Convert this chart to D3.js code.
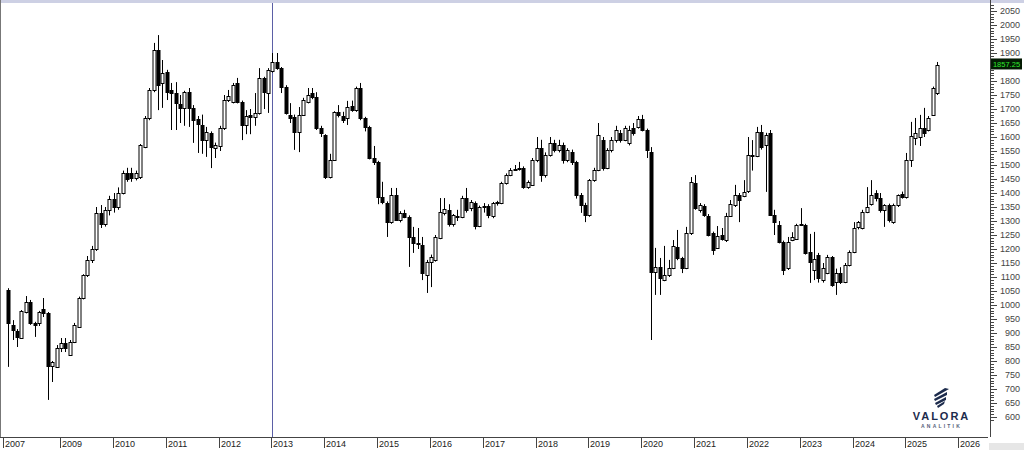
<!DOCTYPE html>
<html><head><meta charset="utf-8">
<script src="https://cdn.jsdelivr.net/npm/d3@7"></script>
<style>html,body{margin:0;padding:0;background:#fff;}svg{display:block;}</style>
</head><body>
<svg id="c" width="1024" height="450"></svg>
<script>
// ---- DATA (monthly candles from Jan 2008) ----
const startMonth = "2008-01";
const open = [1054,928,907,882,975,1011,936,936,986,971,782,779,846,864,821,868,921,1025,1107,1161,1200,1330,1290,1340,1380,1350,1400,1470,1471,1454,
1457,1564,1668,1768,1911,1793,1832,1768,1757,1718,1704,1761,1704,1664,1643,1589,1614,1561,1568,1632,1732,1725,1793,1725,1643,1679,1671,1686,1811,1757,
1836,1868,1846,1779,1679,1671,1618,1679,1725,1757,1743,1632,1607,1457,1518,1689,1675,1668,1711,1696,1775,1668,1636,1525,1511,1386,1364,1296,1393,1304,
1329,1314,1243,1221,1214,1107,1154,1161,1239,1329,1339,1289,1314,1314,1382,1346,1364,1282,1354,1354,1318,1364,1364,1436,1464,1486,1489,1489,1421,1429,
1518,1561,1464,1536,1579,1554,1571,1518,1546,1511,1393,1357,1321,1446,1482,1589,1489,1554,1589,1614,1589,1579,1632,1636,1664,1625,1546,1118,1136,1089,
1107,1132,1207,1168,1132,1257,1436,1339,1354,1318,1257,1204,1250,1232,1318,1357,1393,1389,1407,1532,1532,1618,1571,1614,1321,1286,1225,1132,1232,1236,
1286,1286,1189,1125,1179,1089,1114,1171,1082,1114,1082,1143,1189,1279,1275,1332,1361,1400,1382,1339,1357,1296,1357,1396,1386,1518,1596,1600,1632,1625,
1679,1757];
const high = [1060,946,914,982,1032,1018,940,979,1025,975,800,857,882,882,875,936,1030,1110,1175,1211,1350,1357,1350,1390,1400,1420,1480,1490,1490,1480,
1575,1675,1775,1936,1964,1875,1840,1793,1796,1750,1765,1775,1714,1675,1680,1636,1620,1580,1640,1750,1768,1793,1811,1730,1696,1700,1757,1846,1815,1846,
1900,1900,1850,1785,1721,1680,1707,1740,1775,1775,1760,1640,1610,1540,1692,1714,1690,1729,1730,1780,1793,1672,1640,1568,1515,1440,1370,1418,1418,1335,
1340,1320,1279,1275,1243,1161,1180,1250,1382,1382,1360,1325,1340,1390,1418,1375,1370,1355,1364,1360,1368,1372,1440,1470,1489,1500,1511,1495,1445,1525,
1600,1590,1545,1600,1590,1590,1580,1560,1555,1515,1400,1365,1450,1490,1650,1600,1560,1600,1640,1625,1640,1640,1650,1675,1679,1630,1564,1204,1168,1211,
1161,1232,1268,1172,1279,1457,1464,1364,1360,1325,1262,1282,1275,1329,1375,1429,1400,1446,1600,1589,1636,1643,1615,1625,1340,1300,1230,1243,1260,1290,
1346,1290,1254,1261,1186,1150,1179,1175,1130,1135,1150,1195,1296,1300,1340,1421,1446,1410,1400,1360,1362,1362,1395,1405,1543,1654,1668,1679,1704,1675,
1780,1868];
const low = [779,875,850,880,970,929,886,925,957,661,725,779,832,832,821,864,918,1020,1100,1150,1193,1275,1280,1320,1330,1340,1395,1440,1440,1445,
1450,1560,1660,1760,1696,1704,1732,1625,1625,1650,1640,1636,1579,1543,1540,1529,1489,1525,1550,1625,1725,1720,1720,1589,1610,1610,1640,1680,1700,1686,
1830,1840,1757,1680,1650,1554,1546,1675,1720,1735,1625,1600,1450,1452,1515,1670,1650,1643,1690,1690,1660,1620,1520,1500,1360,1360,1243,1290,1300,1295,
1310,1136,1186,1200,1089,1043,1064,1155,1235,1320,1280,1280,1300,1310,1330,1335,1270,1278,1330,1310,1310,1355,1360,1430,1460,1480,1480,1415,1415,1425,
1510,1440,1455,1530,1545,1545,1505,1510,1500,1380,1329,1296,1315,1440,1478,1480,1485,1545,1580,1580,1585,1570,1605,1630,1620,1525,875,1036,1036,1085,
1100,1128,1160,1114,1128,1250,1340,1330,1315,1245,1179,1200,1230,1225,1315,1350,1296,1385,1400,1480,1528,1555,1404,1318,1250,1220,1107,1125,1228,1232,
1282,1180,1079,1089,1080,1080,1110,1065,1036,1075,1078,1138,1185,1270,1270,1328,1355,1370,1330,1279,1295,1290,1350,1380,1380,1493,1571,1568,1600,1620,
1675,1750];
const close = [936,911,886,979,1011,936,930,975,971,782,796,846,864,846,868,929,1025,1107,1161,1200,1330,1290,1340,1380,1350,1400,1470,1450,1454,1471,
1571,1668,1768,1911,1786,1829,1761,1757,1721,1704,1761,1704,1661,1646,1589,1618,1564,1571,1632,1732,1746,1786,1725,1643,1675,1671,1686,1811,1761,1839,
1868,1846,1779,1686,1668,1618,1679,1732,1750,1743,1632,1614,1457,1518,1689,1679,1661,1707,1696,1775,1668,1636,1525,1511,1386,1368,1296,1393,1304,1329,
1314,1243,1221,1218,1114,1154,1171,1243,1332,1343,1289,1321,1318,1382,1339,1368,1282,1350,1350,1321,1364,1368,1436,1464,1482,1486,1484,1421,1439,1518,
1561,1464,1536,1579,1554,1571,1518,1554,1511,1393,1357,1321,1446,1482,1607,1489,1554,1589,1625,1589,1632,1625,1614,1664,1625,1554,1118,1136,1096,1107,
1132,1211,1168,1132,1257,1439,1346,1357,1321,1250,1196,1246,1236,1318,1361,1393,1375,1404,1536,1536,1618,1564,1607,1321,1296,1225,1125,1225,1243,1286,
1289,1186,1154,1164,1096,1132,1171,1071,1114,1082,1143,1189,1275,1296,1332,1350,1393,1382,1339,1357,1304,1357,1393,1386,1518,1604,1614,1632,1614,1668,
1775,1857.25];
const yTickValues = d3.range(600, 2051, 50);
const xTickDates = ["2007-12","2009-01","2010-01","2011-01","2012-01","2013-01","2014-01","2015-01","2016-01","2017-01","2018-01","2019-01","2020-01","2021-01","2022-01","2023-01","2024-01","2025-01","2026-01"];
const markerDate = "2013-01";
const lastLabel = "1857.25";

// ---- helpers ----
const parseM = d3.timeParse("%Y-%m");
const t0 = parseM(startMonth);
const monthIndex = s => d3.timeMonth.count(t0, parseM(s));
const candles = open.map((o, i) => ({i, o, h: high[i], l: low[i], c: close[i]}));

const svg = d3.select("#c");
const x = d3.scaleLinear().domain([0, 216]).range([8.2, 959.3]);
const y = d3.scaleLinear().domain([600, 2050]).range([417, 11]);
const FONT = "Liberation Sans, Arial, sans-serif";

// background & frame
svg.append("rect").attr("width",1024).attr("height",450).attr("fill","#fff");
svg.append("rect").attr("x",0).attr("y",0).attr("width",1024).attr("height",3).attr("fill","#cdd0e4");
svg.append("line").attr("x1",0.5).attr("x2",0.5).attr("y1",0).attr("y2",438).attr("stroke","#777");

// marker line
const mx = Math.round(x(monthIndex(markerDate))) + 0.5;
svg.append("line").attr("x1",mx).attr("x2",mx).attr("y1",3).attr("y2",437).attr("stroke","#5b5fa6").attr("stroke-width",1);

// candles
const g = svg.append("g");
const cx = d => Math.round(x(d.i)) + 0.5;
g.selectAll("line.w").data(candles).join("line").attr("class","w")
  .attr("x1",cx).attr("x2",cx).attr("y1",d=>y(d.h)).attr("y2",d=>y(d.l))
  .attr("stroke","#000").attr("stroke-width",1);
g.selectAll("rect.b").data(candles).join("rect").attr("class","b")
  .attr("x",d=>cx(d)-1.5).attr("width",3)
  .attr("y",d=>Math.round(y(Math.max(d.o,d.c)))+0.5)
  .attr("height",d=>Math.max(1, Math.round(y(Math.min(d.o,d.c))) - Math.round(y(Math.max(d.o,d.c)))))
  .attr("fill",d=>d.c>=d.o?"#fff":"#000").attr("stroke","#000").attr("stroke-width",1);

// x axis
svg.append("line").attr("x1",0).attr("x2",988).attr("y1",437.5).attr("y2",437.5).attr("stroke","#444");
const xt = svg.append("g");
xTickDates.forEach(s => {
  const px = Math.round(x(monthIndex(s)) - 1) + 0.5;
  xt.append("line").attr("x1",px).attr("x2",px).attr("y1",438).attr("y2",448).attr("stroke","#444");
  xt.append("text").attr("x",px+1.5).attr("y",447).text(s.slice(0,4))
    .attr("font-family",FONT).attr("font-size",9).attr("fill","#222");
});

// y axis (right)
svg.append("line").attr("x1",990.5).attr("x2",990.5).attr("y1",0).attr("y2",437).attr("stroke","#444");
const yt = svg.append("g");
d3.range(590, 2071, 10).forEach(v => {
  const py = Math.round(y(v)) + 0.5;
  if (py < 1 || py > 437) return;
  const major = v % 50 === 0;
  yt.append("line").attr("x1",990).attr("x2",major?997:994).attr("y1",py).attr("y2",py).attr("stroke","#444");
});
const lastY = y(close[close.length-1]);
yTickValues.forEach(v => {
  if (Math.abs(y(v) - lastY) < 9) return; // hidden behind the price box, as in the reference
  yt.append("text").attr("x",1020).attr("y",y(v)+3).attr("text-anchor","end").text(v)
    .attr("font-family",FONT).attr("font-size",9).attr("fill","#444");
});
// last price label
svg.append("rect").attr("x",991).attr("y",lastY-6.5).attr("width",31).attr("height",11).attr("fill","#031a03");
svg.append("text").attr("x",1006.5).attr("y",lastY+2).attr("text-anchor","middle").text(lastLabel)
  .attr("font-family",FONT).attr("font-size",7.5).attr("fill","#2ee82e");

// bottom-right gray box
svg.append("rect").attr("x",989).attr("y",443).attr("width",35).attr("height",7).attr("fill","#e6e6e6");

// logo
const lg = svg.append("g").attr("fill","#1c2b4c");
[[[945,388],[949,389],[935,397],[934,395]],
 [[947,392],[947,395],[935,401],[934,399]],
 [[946,397],[946,400],[936,405],[935,403]],
 [[945,401],[944,404],[938,408],[937,406]]].forEach(p => lg.append("polygon").attr("points", p.map(q=>q.join(",")).join(" ")));
svg.append("text").attr("x",941.5).attr("y",420).attr("text-anchor","middle").text("VALORA")
  .attr("font-family",FONT).attr("font-weight","bold").attr("font-size",11)
  .attr("letter-spacing",2).attr("fill","#1c2b4c");
svg.append("text").attr("x",941.5).attr("y",428).attr("text-anchor","middle").text("ANALITIK")
  .attr("font-family",FONT).attr("font-size",5).attr("font-weight","bold")
  .attr("letter-spacing",2.2).attr("fill","#56617a");
</script>
</body></html>
